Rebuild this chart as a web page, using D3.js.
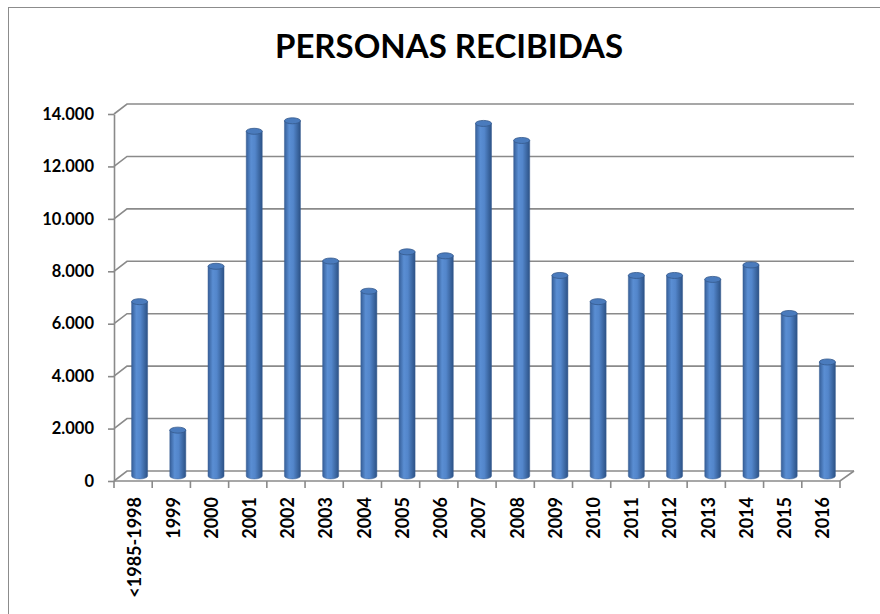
<!DOCTYPE html>
<html>
<head>
<meta charset="utf-8">
<script src="https://cdn.jsdelivr.net/npm/d3@7"></script>
<style>
  body { margin: 0; background: #fff; }
  svg { display: block; font-family: Lato, "Open Sans", sans-serif; }
</style>
</head>
<body>
<script>
const w = 880;
const h = 614;

const categories = ["<1985-1998", "1999", "2000", "2001", "2002", "2003", "2004", "2005", "2006",
    "2007", "2008", "2009", "2010", "2011", "2012", "2013", "2014", "2015", "2016"];
const personas = [6650, 1750, 8000, 13150, 13550, 8200, 7050, 8550, 8400,
    13450, 12800, 7650, 6650, 7650, 7650, 7500, 8050, 6200, 4350];
const yTicks = [0, 2000, 4000, 6000, 8000, 10000, 12000, 14000];

// plot box (front plane) and 3d depth offset
const plotLeft = 114, plotRight = 840, plotBottom = 481, plotTop = 114;
const depthX = 13, depthY = -10;
const gridColor = "#8a8a8a";

const locale = d3.formatLocale({ decimal: ",", thousands: ".", grouping: [3], currency: ["", " €"] });
const fmt = locale.format(",d");

const svg = d3.select("body").append("svg").attr("width", w).attr("height", h);

// gradient for the cylinders
const defs = svg.append("defs");
const grad = defs.append("linearGradient").attr("id", "cyl").attr("x1", 0).attr("x2", 1).attr("y1", 0).attr("y2", 0);
grad.append("stop").attr("offset", "0%").attr("stop-color", "#365f99");
grad.append("stop").attr("offset", "30%").attr("stop-color", "#5a8ed3");
grad.append("stop").attr("offset", "55%").attr("stop-color", "#5386cb");
grad.append("stop").attr("offset", "100%").attr("stop-color", "#2c5286");

// outer chart border
svg.append("rect")
    .attr("x", 8.5).attr("y", 7.5)
    .attr("width", 900).attr("height", 700)
    .attr("fill", "none").attr("stroke", "#8c8c8c").attr("stroke-width", 1);

// title
svg.append("text")
    .attr("x", 449).attr("y", 58)
    .attr("text-anchor", "middle")
    .style("font-size", "33px").style("font-weight", "bold")
    .text("PERSONAS RECIBIDAS");

const yFront = d3.scaleLinear().domain([0, 14000]).range([plotBottom, plotTop]);
const xScale = d3.scaleBand().domain(categories).range([plotLeft, plotRight]);

// walls: gridlines on side wall + back wall
svg.append("g")
    .selectAll("path")
    .data(yTicks)
    .enter()
    .append("path")
    .attr("d", function (d) {
        const y = yFront(d);
        return "M" + plotLeft + "," + y + "L" + (plotLeft + depthX) + "," + (y + depthY) +
            "L" + (plotRight + depthX + 1) + "," + (y + depthY);
    })
    .attr("fill", "none")
    .attr("stroke", gridColor)
    .attr("stroke-width", 1.6);

// floor front edge and right edge
svg.append("path")
    .attr("d", "M" + plotLeft + "," + plotBottom + "L" + plotRight + "," + plotBottom +
        "L" + (plotRight + depthX + 1) + "," + (plotBottom + depthY))
    .attr("fill", "none")
    .attr("stroke", gridColor)
    .attr("stroke-width", 1.6);

// y axis
const yAxis = d3.axisLeft(yFront).tickValues(yTicks).tickFormat(fmt).tickSize(6).tickSizeOuter(0).tickPadding(14);
const gy = svg.append("g").attr("transform", "translate(" + plotLeft + ",0)").call(yAxis);
gy.select(".domain").attr("stroke", gridColor).attr("stroke-width", 1.6);
gy.selectAll(".tick line").attr("stroke", gridColor).attr("stroke-width", 1.6);
gy.selectAll("text")
    .style("font-family", "Lato, sans-serif")
    .style("font-size", "16.5px").style("font-weight", "bold").attr("fill", "#000");

// x axis: boundary ticks
svg.append("g")
    .selectAll("line")
    .data(categories.concat(["end"]))
    .enter()
    .append("line")
    .attr("x1", function (d, i) { return plotLeft + i * xScale.step(); })
    .attr("x2", function (d, i) { return plotLeft + i * xScale.step(); })
    .attr("y1", plotBottom).attr("y2", plotBottom + 7)
    .attr("stroke", gridColor).attr("stroke-width", 1.6);

// x axis labels
const xAxis = d3.axisBottom(xScale).tickSize(0).tickSizeOuter(0);
const gx = svg.append("g").attr("transform", "translate(0," + plotBottom + ")").call(xAxis);
gx.select(".domain").remove();
gx.selectAll("text")
    .attr("transform", "translate(2,16)rotate(-90)")
    .attr("x", 0).attr("y", 0).attr("dy", "0.35em")
    .style("text-anchor", "end")
    .style("font-family", "Lato, sans-serif")
    .style("font-size", "18px").style("font-weight", "bold").attr("fill", "#000");

// cylinders, placed on the middle plane of the depth
const midX = depthX / 2, midY = depthY / 2;
const r = 8, ry = 3;
const bars = svg.append("g")
    .selectAll("g")
    .data(personas)
    .enter()
    .append("g")
    .attr("transform", function (d, i) {
        return "translate(" + (xScale(categories[i]) + xScale.bandwidth() / 2 + midX) + ",0)";
    });

bars.append("path")
    .attr("d", function (d) {
        const yb = yFront(0) + midY;
        const yt = yFront(d) + midY;
        return "M" + (-r) + "," + yt + "L" + (-r) + "," + yb +
            "A" + r + "," + ry + " 0 0 0 " + r + "," + yb +
            "L" + r + "," + yt + "Z";
    })
    .attr("fill", "url(#cyl)")
    .attr("stroke", "#3a5f93")
    .attr("stroke-width", 0.5);

bars.append("ellipse")
    .attr("cx", 0)
    .attr("cy", function (d) { return yFront(d) + midY; })
    .attr("rx", r).attr("ry", ry)
    .attr("fill", "#4a7bbd")
    .attr("stroke", "#35598c")
    .attr("stroke-width", 0.8);
</script>
</body>
</html>
